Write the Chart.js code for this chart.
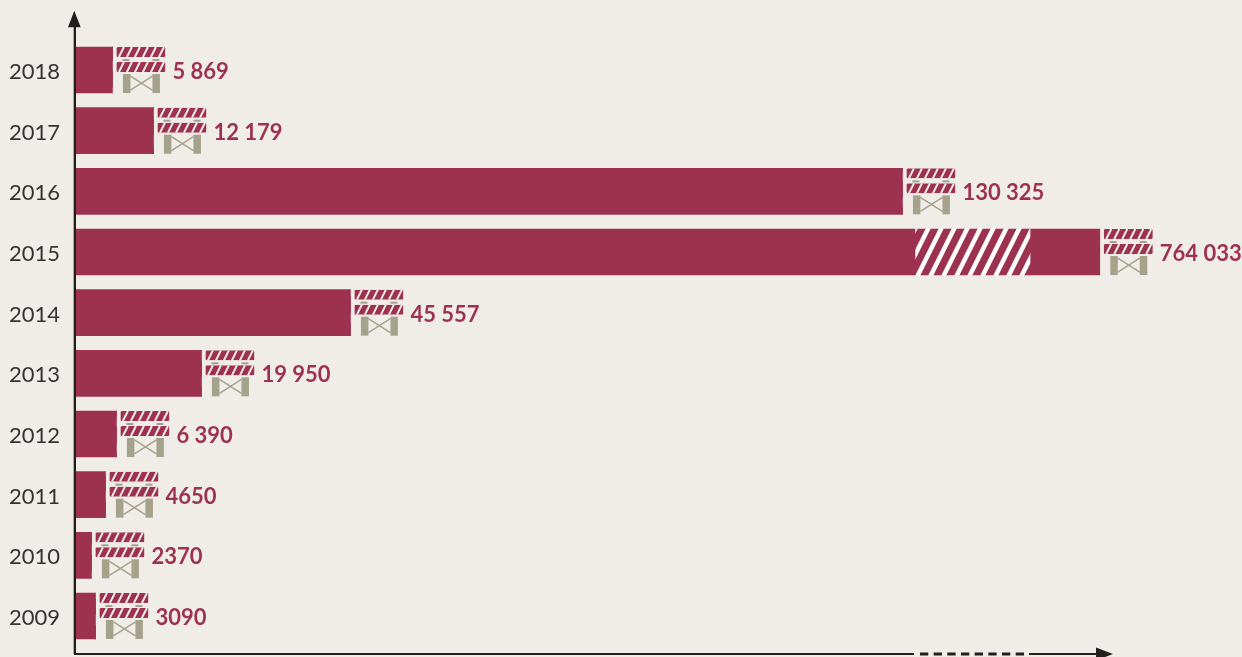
<!DOCTYPE html>
<html>
<head>
<meta charset="utf-8">
<style>
  html, body { margin: 0; padding: 0; background: #f0ede8; overflow: hidden; }
  canvas { display: block; }
</style>
<script src="https://cdn.jsdelivr.net/npm/chart.js@4"></script>
</head>
<body>
<canvas id="chart" width="1242" height="657"></canvas>
<script>
/* Broken horizontal bar chart: the 2015 bar runs through an axis break */

const years = ["2018", "2017", "2016", "2015", "2014", "2013", "2012", "2011", "2010", "2009"];

// printed values, as they read in the picture
const valueLabels = ["5 869", "12 179", "130 325", "764 033", "45 557", "19 950", "6 390", "4650", "2370", "3090"];

// bar lengths read on the (broken) axis
const barLengths = [5900, 12370, 130480, 161600, 43430, 19940, 6530, 4800, 2590, 3220];

// where the axis is interrupted
const axisBreak = [132460, 150600];
const axisMax = 164000;

const crimson = "#9d3250";
const stone = "#a5a28c";
const ink = "#231f20";
const paper = "#f0ede8";

const solidBefore = barLengths.map(v => Math.min(v, axisBreak[0]));
const hatched = barLengths.map(v => v > axisBreak[0] ? axisBreak[1] - axisBreak[0] : 0);
const solidAfter = barLengths.map(v => Math.max(v - axisBreak[1], 0));

function hatchPattern(ctx) {
    const tile = document.createElement("canvas");
    tile.width = 13;
    tile.height = 26;
    const t = tile.getContext("2d");
    t.fillStyle = crimson;
    t.fillRect(0, 0, 13, 26);
    t.fillStyle = "#ffffff";
    for (let i = -2; i < 3; i++) {
        const x = i * 13;
        t.beginPath();
        t.moveTo(x + 13, 0);
        t.lineTo(x + 18, 0);
        t.lineTo(x + 5, 26);
        t.lineTo(x, 26);
        t.closePath();
        t.fill();
    }
    return ctx.createPattern(tile, "repeat");
}

function barrier(ctx, x, cy) {
    const top = cy - 23;

    // connectors and legs
    ctx.fillStyle = stone;
    ctx.fillRect(x + 6, top + 12, 7, 2);
    ctx.fillRect(x + 36, top + 12, 7, 2);
    ctx.fillRect(x + 6.5, top + 27, 7.5, 19);
    ctx.fillRect(x + 36, top + 27, 7.5, 19);
    ctx.strokeStyle = stone;
    ctx.lineWidth = 1.5;
    ctx.beginPath();
    ctx.moveTo(x + 14, top + 29);
    ctx.lineTo(x + 36, top + 43);
    ctx.moveTo(x + 36, top + 29);
    ctx.lineTo(x + 14, top + 43);
    ctx.stroke();

    // striped boards
    [top, top + 15].forEach(y => {
        ctx.save();
        ctx.beginPath();
        ctx.roundRect(x, y, 49, 10, 1.5);
        ctx.clip();
        ctx.fillStyle = crimson;
        ctx.fillRect(x, y, 49, 10);
        ctx.strokeStyle = paper;
        ctx.lineWidth = 2;
        for (let i = 0; i < 6; i++) {
            const gx = x + 5 + i * 8;
            ctx.beginPath();
            ctx.moveTo(gx + 2.5, y);
            ctx.lineTo(gx - 2.5, y + 10);
            ctx.stroke();
        }
        ctx.restore();
    });
}

const barEndsPlugin = {
    id: "barEnds",
    afterDatasetsDraw(chart) {
        const { ctx, scales } = chart;
        const bars = chart.getDatasetMeta(0).data;
        ctx.save();
        barLengths.forEach((v, i) => {
            const end = scales.x.getPixelForValue(v);
            const cy = bars[i].y;
            barrier(ctx, end + 4, cy);
            ctx.fillStyle = crimson;
            ctx.font = "bold 22px Lato";
            ctx.textAlign = "left";
            ctx.textBaseline = "middle";
            ctx.fillText(valueLabels[i], end + 60, cy + 2);
        });
        ctx.restore();
    }
};

const axesPlugin = {
    id: "arrowAxes",
    afterDraw(chart) {
        const { ctx, chartArea, scales } = chart;
        const x0 = chartArea.left;
        const y0 = 654;
        const xEnd = chartArea.right - 2;
        const dashFrom = scales.x.getPixelForValue(axisBreak[0]);
        const dashTo = scales.x.getPixelForValue(axisBreak[1]);

        ctx.save();
        ctx.strokeStyle = "#a9a8a4";
        ctx.lineWidth = 1;
        ctx.beginPath();
        ctx.moveTo(x0 - 1.5, y0);
        ctx.lineTo(x0 - 1.5, 26);
        ctx.stroke();

        ctx.strokeStyle = ink;
        ctx.fillStyle = ink;
        ctx.lineWidth = 2;

        ctx.beginPath();
        ctx.moveTo(x0, y0 + 1);
        ctx.lineTo(x0, 24);
        ctx.moveTo(x0, y0);
        ctx.lineTo(dashFrom - 1, y0);
        ctx.moveTo(dashTo - 1, y0);
        ctx.lineTo(xEnd - 15, y0);
        ctx.stroke();

        ctx.setLineDash([8.3, 5.37]);
        ctx.lineWidth = 3;
        ctx.beginPath();
        ctx.moveTo(dashFrom + 5, y0);
        ctx.lineTo(dashTo - 5, y0);
        ctx.stroke();
        ctx.setLineDash([]);

        ctx.beginPath();
        ctx.moveTo(x0 - 0.7, 10.7);
        ctx.lineTo(x0 + 5.7, 27.3);
        ctx.lineTo(x0 - 7, 27.3);
        ctx.closePath();
        ctx.moveTo(xEnd, y0);
        ctx.lineTo(xEnd - 17, y0 + 6.5);
        ctx.lineTo(xEnd - 17, y0 - 6.5);
        ctx.closePath();
        ctx.fill();
        ctx.restore();
    }
};

const canvas = document.getElementById("chart");
const hatch = hatchPattern(canvas.getContext("2d"));

function barSet(data, color) {
    return {
        data: data,
        backgroundColor: color,
        borderWidth: 0,
        barThickness: 46,
        stack: "bar"
    };
}

new Chart(canvas, {
    type: "bar",
    data: {
        labels: years,
        datasets: [
            barSet(solidBefore, crimson),
            barSet(hatched, hatch),
            barSet(solidAfter, crimson)
        ]
    },
    options: {
        indexAxis: "y",
        responsive: false,
        animation: false,
        devicePixelRatio: 1,
        layout: { padding: { top: 39.7, bottom: 10.7, right: 127 } },
        plugins: {
            legend: { display: false },
            tooltip: { enabled: false }
        },
        scales: {
            x: {
                display: false,
                stacked: true,
                min: 0,
                max: axisMax
            },
            y: {
                stacked: true,
                afterFit(scale) {
                    scale.width = 75;
                    scale.paddingTop = 0;
                    scale.paddingBottom = 0;
                },
                border: { display: false },
                grid: { display: false, drawTicks: false },
                ticks: {
                    color: "#333333",
                    font: { family: "Lato", size: 22 },
                    padding: 15,
                    labelOffset: 2,
                    autoSkip: false
                }
            }
        }
    },
    plugins: [barEndsPlugin, axesPlugin]
});
</script>
</body>
</html>
